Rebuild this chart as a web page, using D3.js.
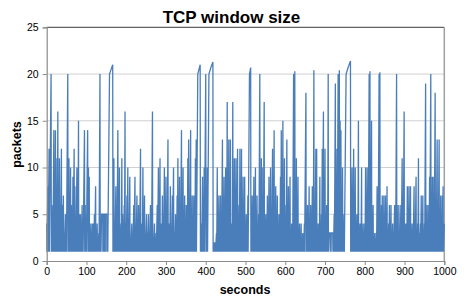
<!DOCTYPE html>
<html><head><meta charset="utf-8">
<script src="https://cdn.jsdelivr.net/npm/d3@7"></script>
<style>
html,body{margin:0;padding:0;background:#fff;}
svg{display:block;font-family:"Liberation Sans",Arial,sans-serif;}
</style></head>
<body>
<svg id="chart" width="473" height="302"></svg>
<script>
const chartTitle = "TCP window size";
const xLabel = "seconds";
const yLabel = "packets";
const xTicks = [0,100,200,300,400,500,600,700,800,900,1000];
const yTicks = [0,5,10,15,20,25];

const seconds = [
0,.6,3,3.6,6,6.6,11,11.6,13,13.6,15,15.6,18,18.6,20,20.6,22,22.6,24,24.6,26,26.6,28,28.6,30,30.6,32,32.6,34,34.6,37,37.6,39,39.6,42,42.6,44,44.6,47,47.6,
49,49.6,53,53.6,56,56.6,58,58.6,60,60.6,62,62.6,64,64.6,66,66.6,69,69.6,71,71.6,73,73.6,76,76.6,78,78.6,80,80.6,82,82.6,85,85.6,87,87.6,89,89.6,91,91.6,95,95.6,97,97.6,99,99.6,
103,103.6,105,105.6,107,107.6,109,109.6,111,111.6,113,113.6,115,115.6,118,118.6,120,120.6,123,123.6,125,125.6,127,127.6,129,129.6,131,131.6,134,134.6,136,136.6,138,141,141.3,141.6,144,144.3,144.6,147,147.3,147.6,151,151.3,153,153.6,
158,162,166,166.6,169,169.6,171,171.6,174,174.6,176,176.6,179,179.6,181,181.6,183,183.6,185,185.6,187,187.6,189,189.6,191,191.6,193,193.6,195,195.6,197,197.6,199,199.6,
202,202.6,204,204.6,206,206.6,209,209.6,211,211.6,214,214.6,216,216.6,219,219.6,222,222.6,224,224.6,227,227.6,229,229.6,231,231.6,233,233.6,236,236.6,238,238.6,240,240.6,242,242.6,244,244.6,246,246.6,248,248.6,251,251.6,
253,253.6,256,256.6,258,258.6,261,261.6,263,263.6,266,266.6,268,268.6,271,271.6,273,273.6,275,275.6,278,278.6,281,281.6,283,283.6,285,285.6,287,287.6,289,289.6,291,291.6,293,293.6,296,296.6,298,298.6,
300,300.6,302,302.6,305,305.6,307,307.6,309,309.6,311,311.6,313,313.6,316,316.6,319,319.6,321,321.6,324,324.6,326,326.6,328,328.6,330,330.6,332,332.6,334,334.6,336,336.6,339,339.6,341,341.6,343,343.6,345,345.6,347,347.6,
349,349.6,351,351.6,353,353.6,355,355.6,357,357.6,359,359.6,362,362.6,364,364.6,366,366.6,368,368.6,370,370.6,372,372.6,374,374.6,376,376.6,380,383,386,386.6,389,389.6,392,392.6,394,394.6,396,396.6,
400,400.6,402,402.6,404,404.6,408,413,418,418.6,
421,421.6,424,424.6,427,427.6,429,429.6,431,431.6,433,433.6,435,435.6,437,437.6,439,439.6,442,442.6,444,444.6,446,446.6,448,448.6,450,450.6,
452,452.6,454,454.6,456,456.6,458,458.6,460,460.6,462,462.6,464,464.6,466,466.6,468,468.6,470,470.6,472,472.6,474,474.6,476,476.6,478,478.6,480,480.6,482,482.6,484,484.6,486,486.6,488,488.6,490,490.6,492,492.6,494,494.6,496,496.6,
498,498.6,500,500.6,502,502.6,504,504.6,506,506.6,510,513,513.6,515,515.6,517,517.6,519,519.6,521,521.6,523,523.6,525,525.6,527,527.6,529,529.6,531,531.6,533,533.6,536,536.6,538,538.6,540,540.6,542,542.6,544,544.6,547,547.6,549,549.6,
551,551.6,553,553.6,555,555.6,557,557.6,559,559.6,561,561.6,563,563.6,565,565.6,568,568.6,570,570.6,572,572.6,574,574.6,576,576.6,578,578.6,580,580.6,582,582.6,584,584.6,586,586.6,588,588.6,590,590.6,592,592.6,594,594.6,596,596.6,598,598.6,
600,600.6,602,602.6,604,604.6,606,606.6,608,608.6,610,610.6,612,612.6,614,614.6,616,616.6,618,618.6,621,621.6,624,624.6,626,626.6,628,628.6,630,630.6,632,632.6,634,634.6,636,636.6,638,638.6,640,640.6,642,642.6,644,644.6,646,646.6,648,648.6,
652,652.6,654,654.6,656,656.6,658,658.6,660,660.6,662,662.6,664,664.6,666,666.6,668,668.6,670,670.6,672,672.6,674,674.6,677,677.6,679,679.6,681,681.6,683,683.6,685,685.6,687,687.6,689,689.6,691,691.6,693,693.6,696,696.6,698,698.6,700,700.6,
702,702.6,704,704.6,706,706.6,708,708.6,710,713,713.3,713.6,717,717.3,717.6,721,721.3,723,723.6,726,726.6,728,728.6,730,730.6,733,733.6,736,736.6,738,738.6,740,740.6,742,742.6,744,744.6,746,746.6,748,748.6,
753,758,764,764.6,766,766.6,768,768.6,770,770.6,772,772.6,774,774.6,776,776.6,778,778.6,780,780.6,782,782.6,784,784.6,786,786.6,788,788.6,790,790.6,792,792.6,794,794.6,796,796.6,798,798.6,
800,800.6,802,802.6,804,804.6,806,806.6,808,808.6,811,811.6,813,813.6,815,815.6,817,817.6,819,819.6,821,821.6,823,823.6,825,825.6,827,827.6,829,829.6,831,831.6,833,833.6,836,836.6,838,838.6,840,840.6,842,842.6,844,844.6,846,846.6,848,848.6,
850,850.6,852,852.6,854,854.6,856,856.6,858,858.6,860,860.6,862,862.6,864,864.6,866,866.6,868,868.6,870,870.6,872,872.6,875,875.6,877,877.6,880,880.6,882,882.6,884,884.6,886,886.6,889,889.6,891,891.6,894,894.6,896,896.6,899,899.6,
901,901.6,903,903.6,905,905.6,907,907.6,909,909.6,911,911.6,913,913.6,915,915.6,917,917.6,919,919.6,921,921.6,924,924.6,926,926.6,929,929.6,931,931.6,933,933.6,935,935.6,937,937.6,940,940.6,942,942.6,944,944.6,946,946.6,948,948.6,
950,950.6,953,953.6,955,955.6,957,957.6,959,959.6,961,961.6,963,963.6,966,966.6,968,968.6,970,970.6,972,972.6,974,974.6,977,977.6,979,979.6,982,982.6,984,984.6,987,987.6,989,989.6,991,991.6,993,993.6,995,995.6,997,997.6,1000
];

const packets = [
4,1,8,1,12,1,20,1,6,1,3,1,14,1,5,1,14,1,3,1,11,1,16,1,4,1,11,1,5,1,12,1,6,1,7,1,3,1,5,1,
2,1,20,1,11,1,4,1,10,1,6,1,3,1,9,1,12,1,8,1,3,1,10,1,4,1,15,1,5,1,5,1,2,1,6,1,3,1,14,1,6,1,3,1,
14,1,10,1,9,1,3,1,4,1,2,1,4,1,4,1,5,1,8,1,3,1,4,1,2,1,3,1,20,1,3,1,5,5,1,5,5,1,5,5,1,5,5,1,2,1,
20,20.5,21,1,11,1,3,1,8,1,2,1,14,1,6,1,10,1,3,1,4,1,11,1,5,1,2,1,6,1,16,1,3,1,
7,1,10,1,3,1,9,1,2,1,4,1,3,1,6,1,9,1,3,1,7,1,2,1,6,1,3,1,12,1,4,1,2,1,10,1,3,1,7,1,2,1,5,1,
3,1,5,1,2,1,6,1,3,1,16,1,2,1,4,1,2,1,3,1,6,1,10,1,3,1,11,1,4,1,2,1,7,1,3,1,10,1,4,1,
9,1,3,1,13,1,4,1,2,1,8,1,3,1,7,1,10,1,2,1,5,1,3,1,7,1,11,1,4,1,9,1,3,1,14,1,5,1,10,1,2,1,7,1,
3,1,6,1,4,1,11,1,13,1,5,1,14,1,3,1,7,1,4,1,7,1,3,1,11,1,13,1,20,20.5,21,1,4,1,9,1,3,1,10,1,
20,1,4,1,10,1,20,20.7,21.3,1,
2,1,2,1,3,1,10,1,3,1,7,1,2,1,7,1,3,1,13,1,4,1,9,1,3,1,10,1,
4,1,17,1,5,1,13,1,3,1,13,1,4,1,2,1,17,1,5,1,11,1,3,1,11,1,4,1,12,1,3,1,6,1,12,1,2,1,12,1,4,1,9,1,3,1,
9,1,2,1,5,1,3,1,7,1,20,20.7,1,3,1,7,1,2,1,9,1,3,1,10,1,4,1,7,1,2,1,5,1,20,1,4,1,11,1,10,1,3,1,17,1,2,1,
5,1,3,1,7,1,2,1,9,1,3,1,10,1,4,1,12,1,3,1,14,1,4,1,8,1,2,1,7,1,3,1,5,1,2,1,9,1,14,1,3,1,15,1,4,1,11,1,
3,1,6,1,13,1,3,1,8,1,2,1,9,1,3,1,4,1,2,1,20,1,20.3,1,3,1,11,1,3,1,9,1,2,1,4,1,2,1,4,1,2,1,3,1,2,1,4,1,
18,1,3,1,6,1,2,1,8,1,3,1,6,1,2,1,8,1,3,1,20.4,1,4,1,12,1,12,1,3,1,4,1,2,1,9,1,3,1,5,1,12,1,16,1,3,1,12,1,
4,1,6,1,2,1,20,1,3,3,1,3,3,1,3,3,1,5,1,19,1,3,1,12,1,20,1,20.4,1,15,1,14,1,3,1,10,1,2,1,5,1,
20,20.7,21.4,1,4,1,10,1,2,1,12,1,3,1,10,1,2,1,5,1,3,1,15,1,2,1,4,1,2,1,10,1,3,1,4,1,2,1,
4,1,10,1,3,1,10,1,3,1,20,1,20.3,1,4,1,15,1,3,1,6,1,2,1,3,1,2,1,3,1,8,1,3,1,20,1,20.2,1,3,1,6,1,7,1,2,1,7,1,
3,1,7,1,3,1,8,1,2,1,4,1,6,1,3,1,6,1,2,1,4,1,3,1,6,1,2,1,20,1,3,1,6,1,2,1,6,1,3,1,11,1,3,1,16,1,
3,1,4,1,2,1,8,1,3,1,8,1,2,1,8,1,3,1,4,1,2,1,8,1,3,1,9,1,2,1,4,1,11,1,3,1,4,1,7,1,2,1,7,1,3,1,
4,1,19,1,3,1,6,1,2,1,6,1,9,1,20,1,3,1,9,1,9,1,3,1,18,1,4,1,13,1,3,1,13,1,2,1,7,1,3,1,7,1,8,1,4
];

const W = 473, H = 302;
const margin = {left: 46.7, right: 28.7, top: 27.3, bottom: 41};
const svg = d3.select("#chart");

const x = d3.scaleLinear().domain([0, 1000]).range([margin.left, W - margin.right]);
const y = d3.scaleLinear().domain([0, 25]).range([H - margin.bottom, margin.top]);

// gridlines
svg.append("g")
  .selectAll("line")
  .data(yTicks.filter(d => d > 0 && d < 25))
  .join("line")
  .attr("x1", x(0)).attr("x2", x(1000))
  .attr("y1", d => y(d)).attr("y2", d => y(d))
  .attr("stroke", "#d0d0d0").attr("stroke-width", 1);

// top and right border
svg.append("line").attr("x1", x(0)).attr("x2", x(1000)).attr("y1", y(25)).attr("y2", y(25))
  .attr("stroke", "#3a3a3a").attr("stroke-width", 1);
svg.append("line").attr("x1", x(1000)).attr("x2", x(1000)).attr("y1", y(25)).attr("y2", y(0))
  .attr("stroke", "#a0a0a0").attr("stroke-width", 1.5);

// series line
const n = Math.min(seconds.length, packets.length);
const pts = d3.range(n).map(i => [seconds[i], packets[i]]);
svg.append("path")
  .datum(pts)
  .attr("fill", "none")
  .attr("stroke", "#4a7ebb")
  .attr("stroke-width", 1.3)
  .attr("stroke-linejoin", "miter")
  .attr("d", d3.line().x(d => x(d[0])).y(d => y(d[1])));

// axes
const xAxis = svg.append("g")
  .attr("transform", `translate(0,${y(0)})`)
  .call(d3.axisBottom(x).tickValues(xTicks).tickSize(4).tickPadding(3).tickFormat(d3.format("d")));
const yAxis = svg.append("g")
  .attr("transform", `translate(${x(0)},0)`)
  .call(d3.axisLeft(y).tickValues(yTicks).tickSize(4).tickPadding(4).tickFormat(d3.format("d")));
[xAxis, yAxis].forEach(g => {
  g.select(".domain").attr("stroke", "#8c8c8c").attr("stroke-width", 1.2);
  g.selectAll(".tick line").attr("stroke", "#8c8c8c");
  g.selectAll("text").attr("fill", "#000").style("font-size", "10.5px")
    .style("font-family", "'Liberation Sans', Arial, sans-serif");
});

// title & labels
svg.append("text").attr("x", 231.5).attr("y", 22.5).attr("text-anchor", "middle")
  .style("font-size", "17px").style("font-weight", "bold").text(chartTitle);
svg.append("text").attr("x", 245).attr("y", 294).attr("text-anchor", "middle")
  .style("font-size", "12.5px").style("font-weight", "bold").text(xLabel);
svg.append("text").attr("transform", "translate(21,144.5) rotate(-90)").attr("text-anchor", "middle")
  .style("font-size", "12.5px").style("font-weight", "bold").text(yLabel);
</script>
</body></html>
